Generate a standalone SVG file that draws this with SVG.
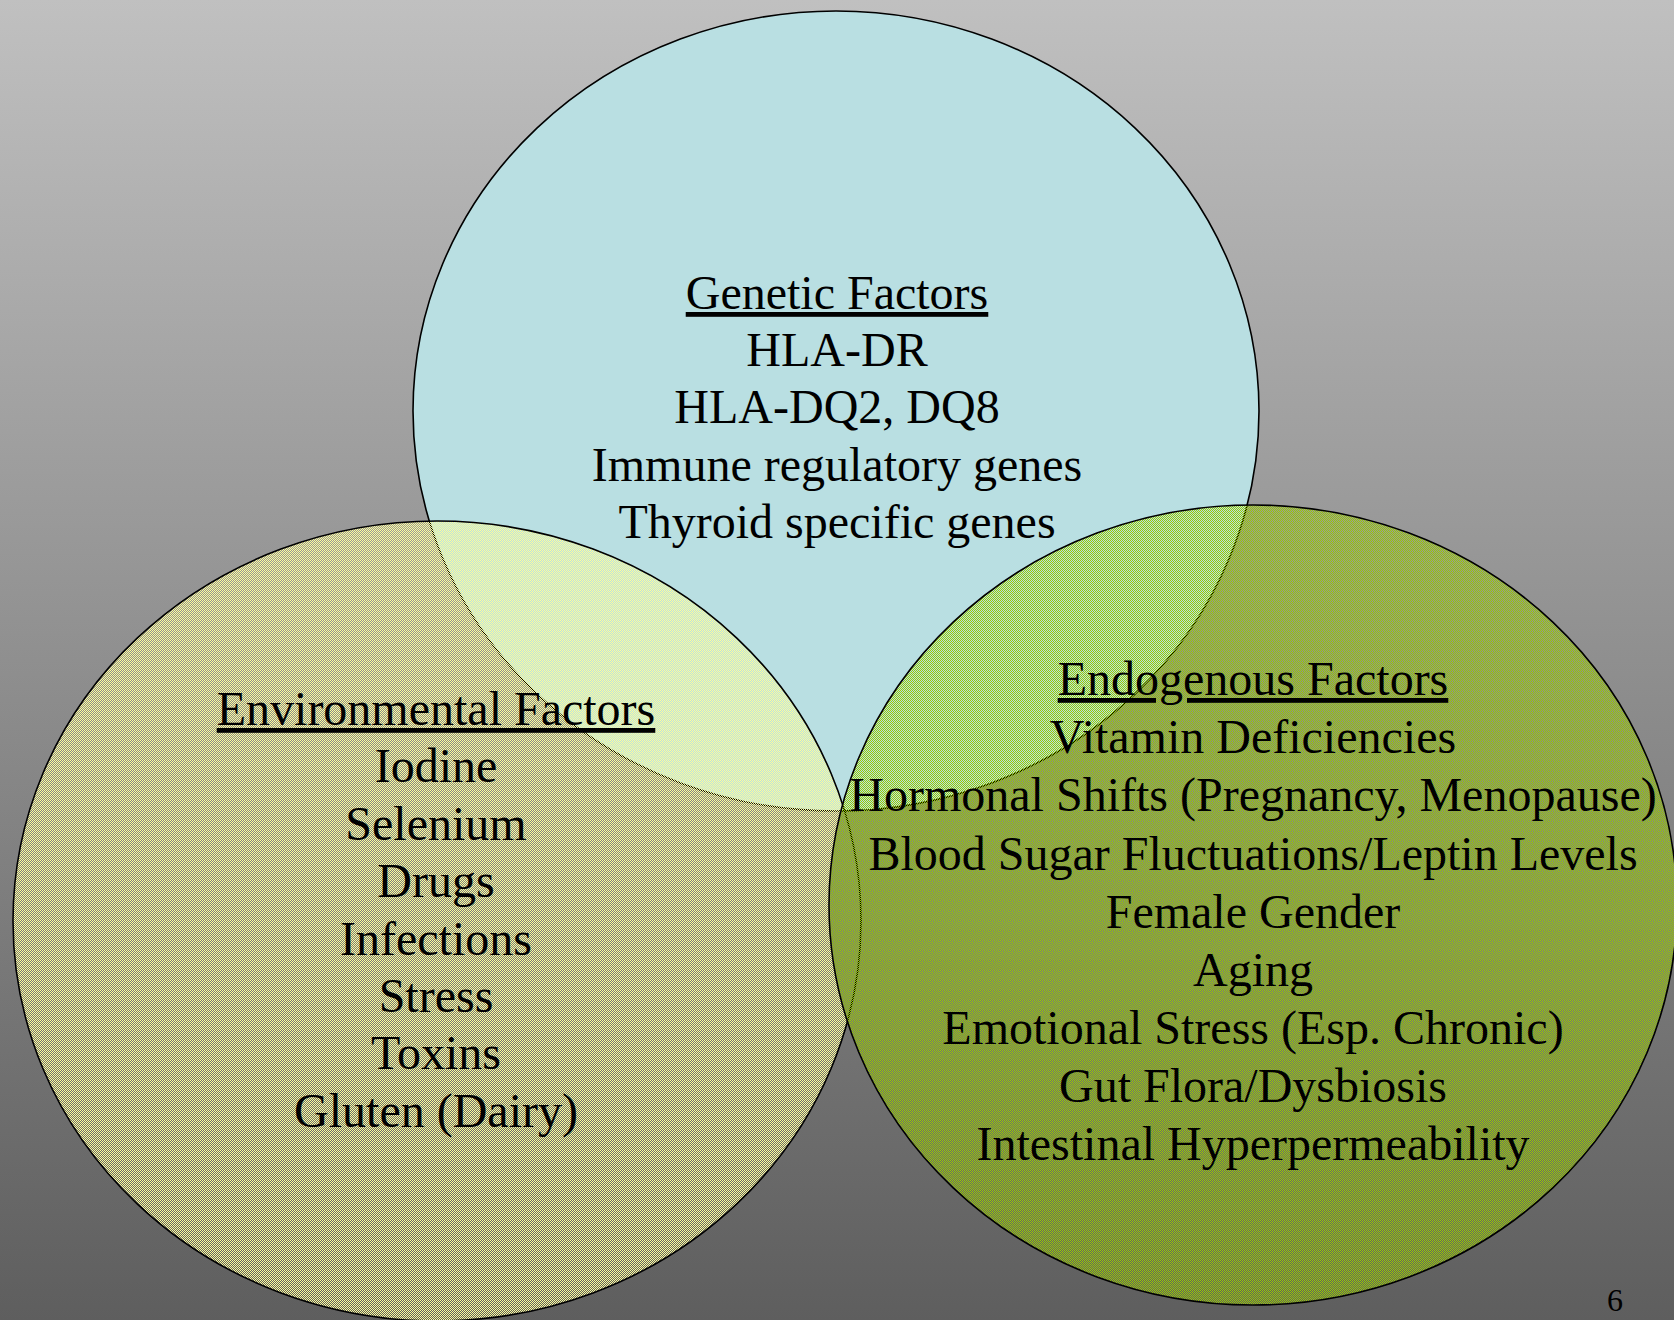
<svg xmlns="http://www.w3.org/2000/svg" width="1674" height="1320" viewBox="0 0 1674 1320">
  <defs>
    <linearGradient id="bg" x1="0" y1="0" x2="0" y2="1">
      <stop offset="0" stop-color="#C0C0C0"/>
      <stop offset="1" stop-color="#5E5E5E"/>
    </linearGradient>
    <pattern id="chkYellow" width="2" height="2" patternUnits="userSpaceOnUse">
      <rect x="0" y="0" width="1" height="1" fill="#FFFF99"/>
      <rect x="1" y="1" width="1" height="1" fill="#FFFF99"/>
    </pattern>
    <pattern id="chkGreen" width="2" height="2" patternUnits="userSpaceOnUse">
      <rect x="0" y="0" width="1" height="1" fill="#99CC00"/>
      <rect x="1" y="1" width="1" height="1" fill="#99CC00"/>
    </pattern>
  </defs>
  <style>
    .circ { stroke: #000000; stroke-width: 1.6; }
    .t { font-family: "Liberation Serif", "Times New Roman", serif; font-size: 48px; fill: #000000; text-anchor: middle; }
    .h { text-decoration: underline; }
    .pg { font-family: "Liberation Serif", "Times New Roman", serif; font-size: 32px; fill: #000000; text-anchor: middle; }
  </style>
  <rect x="0" y="0" width="1674" height="1320" fill="url(#bg)"/>

  <g id="genetic">
    <ellipse class="circ" cx="836" cy="411" rx="423" ry="400" fill="#B9DFE2"/>
  </g>
  <g id="environmental">
    <ellipse class="circ" cx="437" cy="921" rx="424" ry="400" fill="url(#chkYellow)"/>
  </g>
  <g id="endogenous">
    <ellipse class="circ" cx="1253" cy="905" rx="424" ry="400" fill="url(#chkGreen)"/>
  </g>

  <g id="genetic-text">
    <text class="t h" x="837" y="309">Genetic Factors</text>
    <text class="t" x="837" y="366">HLA-DR</text>
    <text class="t" x="837" y="423">HLA-DQ2, DQ8</text>
    <text class="t" x="837" y="481">Immune regulatory genes</text>
    <text class="t" x="837" y="538">Thyroid specific genes</text>
  </g>
  <g id="environmental-text">
    <text class="t h" x="436" y="725">Environmental Factors</text>
    <text class="t" x="436" y="782">Iodine</text>
    <text class="t" x="436" y="840">Selenium</text>
    <text class="t" x="436" y="897">Drugs</text>
    <text class="t" x="436" y="955">Infections</text>
    <text class="t" x="436" y="1012">Stress</text>
    <text class="t" x="436" y="1069">Toxins</text>
    <text class="t" x="436" y="1127">Gluten (Dairy)</text>
  </g>
  <g id="endogenous-text">
    <text class="t h" x="1253" y="695">Endogenous Factors</text>
    <text class="t" x="1253" y="753">Vitamin Deficiencies</text>
    <text class="t" x="1253" y="811">Hormonal Shifts (Pregnancy, Menopause)</text>
    <text class="t" x="1253" y="870">Blood Sugar Fluctuations/Leptin Levels</text>
    <text class="t" x="1253" y="928">Female Gender</text>
    <text class="t" x="1253" y="986">Aging</text>
    <text class="t" x="1253" y="1044">Emotional Stress (Esp. Chronic)</text>
    <text class="t" x="1253" y="1102">Gut Flora/Dysbiosis</text>
    <text class="t" x="1253" y="1160">Intestinal Hyperpermeability</text>
  </g>
  <g id="connectors"/>
  <text class="pg" x="1615" y="1311">6</text>
</svg>
